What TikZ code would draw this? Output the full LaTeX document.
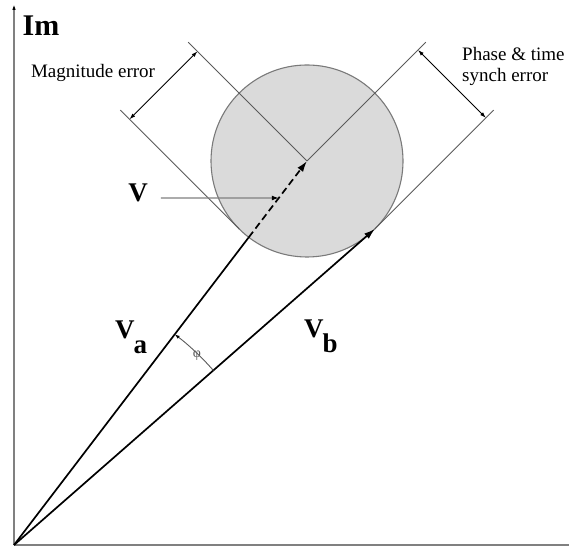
\documentclass[tikz,border=0pt]{standalone}
\usepackage{fontspec}
\setmainfont{Liberation Serif}
\usetikzlibrary{arrows.meta,calc}
\definecolor{axisgray}{HTML}{808080}
\definecolor{linegray}{HTML}{5A5A5A}
\definecolor{circfill}{HTML}{DADADA}
\definecolor{circline}{HTML}{7A7A7A}
\tikzset{
  axisline/.style={draw=axisgray,line width=1.2pt},
  vecline/.style={draw=black,line width=1.7pt},
  thinline/.style={draw=linegray,line width=0.9pt},
  dimarrow/.style={draw=black,line width=0.9pt,{Latex[length=6pt,width=4pt]}-{Latex[length=6pt,width=4pt]}},
  biglabel/.style={font=\fontsize{27}{27}\selectfont\bfseries,inner sep=0pt},
  smalltext/.style={font=\fontsize{19}{21}\selectfont,inner sep=0pt}
}
\begin{document}
\begin{tikzpicture}[x=1pt,y=1pt]
\useasboundingbox (0,0) rectangle (569,548);
% key points
\coordinate (O) at (14,3);
\coordinate (C) at (307,387);
\coordinate (T1) at ($(C)+(-67.9,-67.9)$);
\coordinate (T2) at ($(C)+(67.9,-67.9)$);
\coordinate (L1e) at ($(C)+(-118.8,118.8)$);
\coordinate (L2e) at ($(T1)+(-118.8,118.8)$);
\coordinate (L3e) at ($(C)+(118.8,118.8)$);
\coordinate (L4e) at ($(T2)+(118.8,118.8)$);
\coordinate (M1) at ($(C)+(-109.6,109.6)$);
\coordinate (M2) at ($(T1)+(-109.6,109.6)$);
\coordinate (P1) at ($(C)+(111,111)$);
\coordinate (P2) at ($(T2)+(111,111)$);
\coordinate (Yend) at (14,544);
\coordinate (Xend) at (569,3);
\coordinate (S) at ($(C)!96pt!(O)$);
\coordinate (VP) at ($(O)!0.9036!(C)$);
% axes
\draw[axisline] (O) -- (Xend);
\draw[axisline,-{Latex[length=6pt,width=3.5pt,color=black]}] (O) -- (Yend);
% circle
\node[circle,draw=circline,fill=circfill,line width=1.1pt,minimum size=192pt,inner sep=0pt] (circ) at (C) {};
% construction lines
\draw[thinline] (C) -- (L1e);
\draw[thinline] (T1) -- (L2e);
\draw[thinline] (C) -- (L3e);
\draw[thinline] (T2) -- (L4e);
% dimension arrows
\draw[dimarrow] (M2) -- (M1);
\draw[dimarrow] (P1) -- (P2);
% vectors
\draw[vecline] (O) -- (S);
\draw[vecline,dash pattern=on 7pt off 4pt,-{Latex[length=11pt,width=7pt]}] (S) -- (C);
\draw[vecline,-{Latex[length=11pt,width=7pt]}] (O) -- (T2);
% angle arc
\draw[draw=linegray,line width=0.9pt,-{Latex[length=5pt,width=3.5pt,color=black]}] ($(O)+(41.2:265)$) arc[start angle=41.2,end angle=52.66,radius=265pt];
% labels
\node[biglabel] (im) at (41,522) {\fontsize{30}{30}\selectfont Im};
\node[biglabel] (vlab) at (138,355) {V};
\draw[draw=axisgray,line width=1.1pt,-{Latex[length=7pt,width=5pt,color=black]}] ([xshift=13pt,yshift=-5pt]vlab.east) -- (VP);
\node[biglabel,anchor=base west] (va) at (115,209) {V\kern-1pt\raisebox{-15pt}{a}};
\node[biglabel,anchor=base west] (vb) at (304,210) {V\kern-1pt\raisebox{-15pt}{b}};
\node[font=\fontsize{14}{14}\selectfont,text=linegray,inner sep=0pt] (phi) at (197,192) {φ};
\node[smalltext] (mag) at (93,475) {Magnitude error};
\node[smalltext,align=left,anchor=west] (phase) at (462,482) {Phase \& time\\synch error};
\end{tikzpicture}
\end{document}
